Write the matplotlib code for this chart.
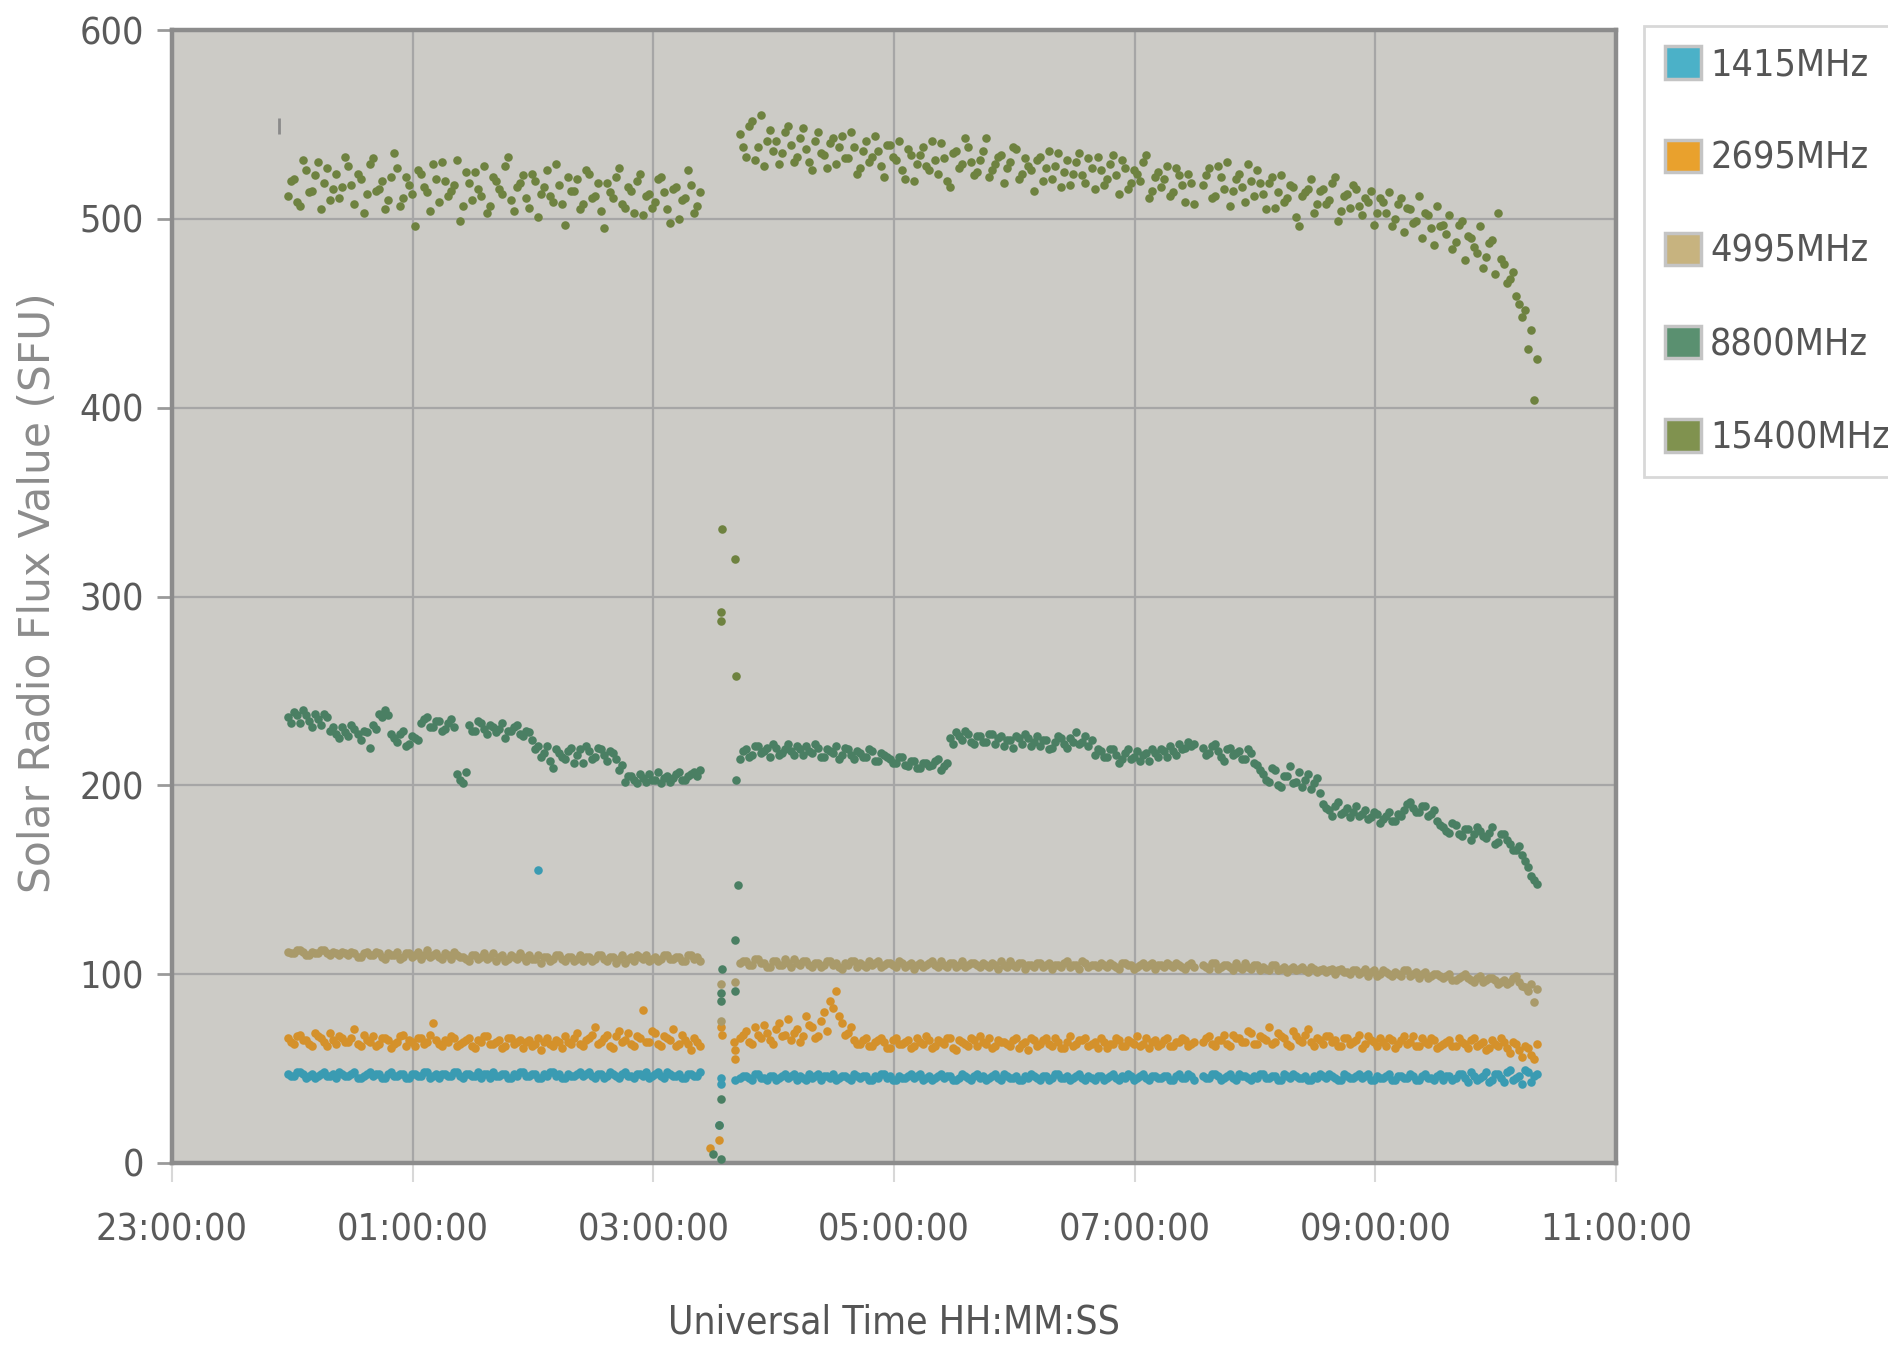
import numpy as np
import matplotlib
matplotlib.use("Agg")
import matplotlib.pyplot as plt
from matplotlib.patches import Patch
from matplotlib import font_manager as fm

# time grid (minutes after 23:00), three stretches of observation
t_a = np.arange(58, 263, 3) / 60.0     # 23:58 - 03:22
t_b1 = np.arange(283, 509, 3) / 60.0   # 03:43 - 07:28
t_b2 = np.arange(514, 680, 3) / 60.0   # 07:34 - 10:19
# second sample set, taken half way between the first
t_a2 = (np.arange(58, 263, 3) + 1.5) / 60.0
t_b12 = (np.arange(283, 509, 3) + 1.5) / 60.0
t_b22 = (np.arange(514, 680, 3) + 1.5) / 60.0

f15400_a = [512, 521, 507, 526, 515, 530, 519, 510, 524, 517,
            528, 508, 521, 513, 532, 516, 505, 522, 527, 511,
            518, 496, 524, 514, 529, 509, 520, 515, 531, 507,
            519, 525, 512, 503, 522, 516, 528, 510, 517, 523,
            506, 520, 513, 526, 509, 518, 497, 515, 521, 508,
            524, 512, 504, 519, 511, 527, 506, 515, 520, 502,
            513, 509, 522, 505, 516, 500, 511, 518, 507]
f15400_b1 = [545, 533, 552, 538, 528, 547, 541, 535, 549, 530,
             543, 537, 526, 546, 534, 540, 529, 544, 532, 538,
             527, 541, 533, 536, 522, 539, 531, 526, 537, 520,
             534, 528, 541, 524, 532, 517, 536, 529, 538, 523,
             531, 543, 526, 533, 519, 530, 537, 524, 528, 515,
             533, 527, 521, 535, 525, 518, 530, 523, 532, 516,
             526, 521, 534, 513, 527, 519, 524, 530, 511, 522,
             517, 528, 514, 523, 509, 519]
f15400_b2 = [518, 527, 512, 522, 530, 515, 524, 509, 520, 526,
             513, 519, 506, 523, 511, 517, 496, 514, 521, 508,
             516, 510, 522, 504, 513, 518, 507, 511, 515, 503,
             509, 514, 500, 511, 506, 498, 512, 503, 495, 507,
             497, 502, 488, 499, 491, 485, 496, 480, 489, 503,
             476, 468, 459, 448, 431, 404]
f15400_a2 = [520, 509, 531, 514, 523, 505, 527, 516, 511, 533,
             518, 524, 503, 529, 515, 520, 510, 535, 507, 522,
             513, 526, 517, 504, 521, 530, 512, 518, 499, 525,
             510, 516, 528, 507, 520, 513, 533, 504, 519, 511,
             524, 501, 517, 512, 529, 508, 522, 515, 505, 526,
             511, 519, 495, 514, 522, 508, 517, 503, 524, 512,
             506, 521, 514, 498, 517, 510, 526, 503, 514]
f15400_b12 = [538, 549, 531, 555, 541, 536, 529, 546, 539, 533,
              548, 530, 541, 535, 527, 543, 538, 532, 546, 524,
              536, 530, 544, 528, 539, 533, 541, 521, 534, 529,
              538, 526, 531, 540, 520, 535, 527, 543, 530, 525,
              536, 522, 529, 534, 527, 538, 521, 532, 526, 531,
              520, 536, 528, 517, 531, 524, 535, 519, 527, 533,
              518, 529, 523, 531, 516, 526, 520, 534, 515, 525,
              521, 512, 527, 518, 524, 508]
f15400_b22 = [523, 511, 528, 516, 507, 521, 517, 529, 512, 519,
              505, 522, 514, 509, 518, 501, 512, 516, 503, 515,
              508, 519, 499, 512, 506, 516, 502, 509, 497, 511,
              503, 496, 508, 493, 505, 499, 490, 502, 486, 496,
              492, 484, 497, 478, 490, 482, 474, 487, 471, 479,
              466, 472, 455, 452, 441, 426]

f8800_a = [236, 239, 233, 237, 231, 235, 238, 229, 227, 231,
           226, 230, 224, 228, 232, 238, 240, 227, 223, 229,
           222, 225, 233, 236, 231, 234, 230, 235, 206, 201,
           232, 229, 233, 227, 231, 230, 225, 229, 232, 226,
           228, 219, 215, 221, 209, 217, 214, 220, 216, 212,
           218, 215, 219, 213, 217, 208, 202, 205, 201, 204,
           206, 203, 201, 205, 204, 207, 203, 206, 205]
f8800_b1 = [214, 219, 216, 221, 218, 215, 220, 217, 222, 216,
            219, 221, 217, 220, 215, 218, 221, 216, 219, 214,
            217, 215, 218, 213, 216, 214, 212, 215, 210, 213,
            209, 212, 211, 214, 210, 225, 228, 224, 227, 222,
            226, 223, 227, 225, 221, 224, 226, 222, 225, 223,
            221, 224, 220, 226, 222, 225, 228, 223, 221, 216,
            218, 215, 219, 212, 217, 214, 218, 216, 213, 217,
            219, 215, 218, 222, 220, 221]
f8800_b2 = [220, 217, 222, 215, 219, 216, 218, 214, 217, 211,
            206, 202, 208, 199, 205, 201, 207, 203, 198, 204,
            190, 187, 189, 185, 188, 186, 184, 187, 183, 185,
            182, 186, 181, 184, 190, 188, 186, 189, 185, 181,
            178, 175, 179, 173, 177, 174, 176, 172, 178, 170,
            174, 169, 166, 163, 157, 150]
f8800_a2 = [233, 237, 240, 234, 238, 232, 236, 231, 225, 228,
            232, 227, 229, 220, 230, 236, 237, 225, 227, 221,
            226, 224, 235, 231, 234, 229, 233, 231, 203, 207,
            229, 234, 230, 232, 228, 233, 229, 231, 227, 229,
            224, 221, 217, 213, 219, 215, 218, 212, 219, 221,
            214, 220, 216, 218, 214, 211, 205, 203, 206, 202,
            203, 207, 204, 202, 206, 203, 205, 207, 208]
f8800_b12 = [218, 215, 221, 217, 220, 222, 216, 219, 218, 221,
             216, 218, 222, 215, 219, 217, 214, 220, 216, 218,
             215, 219, 213, 217, 215, 212, 215, 211, 213, 209,
             212, 210, 213, 208, 212, 222, 226, 229, 223, 226,
             223, 227, 222, 226, 224, 220, 225, 227, 221, 226,
             224, 219, 223, 225, 220, 223, 222, 226, 224, 219,
             215, 219, 216, 214, 219, 215, 213, 217, 219, 215,
             218, 221, 216, 219, 223, 222]
f8800_b22 = [216, 221, 218, 213, 220, 217, 214, 219, 212, 208,
             203, 209, 200, 205, 210, 202, 199, 206, 201, 196,
             188, 184, 191, 186, 183, 189, 185, 182, 186, 180,
             184, 181, 185, 187, 191, 186, 189, 184, 187, 179,
             176, 180, 174, 177, 171, 178, 173, 175, 169, 174,
             171, 166, 168, 160, 152, 148]

f4995_a = [112, 111, 113, 110, 112, 111, 113, 110, 111, 112,
           110, 111, 109, 112, 110, 111, 108, 110, 112, 109,
           111, 110, 108, 113, 110, 109, 111, 108, 110, 109,
           107, 110, 109, 108, 111, 109, 107, 110, 108, 109,
           110, 108, 106, 109, 108, 110, 107, 109, 108, 107,
           109, 108, 110, 107, 109, 108, 106, 109, 110, 108,
           107, 109, 108, 110, 108, 109, 107, 110, 109]
f4995_b1 = [106, 107, 105, 108, 106, 104, 107, 105, 106, 108,
            105, 107, 104, 106, 105, 107, 106, 103, 105, 107,
            106, 104, 105, 107, 105, 106, 104, 106, 105, 103,
            106, 105, 107, 104, 105, 106, 104, 107, 105, 106,
            104, 105, 106, 103, 105, 107, 104, 106, 105, 104,
            106, 105, 103, 105, 106, 104, 105, 107, 104, 105,
            106, 104, 105, 103, 106, 105, 104, 106, 105, 103,
            105, 106, 104, 105, 103, 106]
f4995_b2 = [105, 103, 106, 104, 105, 102, 104, 106, 103, 105,
            104, 102, 105, 103, 101, 104, 103, 102, 104, 101,
            103, 102, 100, 103, 101, 102, 100, 103, 101, 99,
            102, 100, 101, 99, 102, 100, 98, 101, 99, 100,
            98, 100, 97, 99, 98, 96, 99, 97, 98, 95,
            97, 96, 99, 94, 91, 85]
f4995_a2 = [111, 113, 112, 110, 111, 113, 111, 112, 110, 111,
            112, 109, 111, 110, 112, 109, 111, 110, 108, 111,
            109, 112, 110, 109, 111, 108, 110, 112, 109, 108,
            110, 108, 111, 109, 107, 110, 108, 109, 111, 107,
            108, 110, 109, 107, 110, 108, 109, 107, 110, 109,
            107, 110, 108, 109, 106, 110, 108, 107, 109, 110,
            108, 107, 110, 108, 109, 107, 110, 108, 107]
f4995_b12 = [107, 105, 108, 106, 104, 107, 105, 108, 104, 106,
             107, 105, 106, 104, 107, 105, 104, 106, 107, 104,
             105, 107, 106, 104, 106, 105, 107, 104, 106, 105,
             104, 106, 105, 107, 104, 106, 105, 104, 106, 105,
             106, 104, 105, 107, 104, 105, 106, 103, 105, 106,
             104, 106, 105, 104, 107, 105, 103, 106, 105, 104,
             105, 106, 104, 106, 105, 103, 105, 104, 106, 105,
             104, 105, 106, 104, 105, 104]
f4995_b22 = [104, 106, 103, 105, 104, 106, 103, 104, 105, 102,
             103, 105, 102, 104, 103, 102, 104, 101, 103, 102,
             101, 103, 102, 101, 100, 102, 101, 99, 102, 100,
             101, 99, 100, 102, 99, 101, 100, 98, 100, 99,
             99, 97, 98, 100, 97, 98, 96, 98, 97, 96,
             95, 98, 96, 93, 95, 92]

f2695_a = [66, 63, 68, 65, 62, 67, 64, 69, 63, 66,
           64, 71, 62, 65, 67, 63, 66, 61, 64, 68,
           65, 62, 66, 64, 74, 63, 65, 67, 62, 64,
           66, 61, 64, 67, 63, 65, 62, 66, 64, 61,
           65, 63, 60, 66, 62, 64, 67, 63, 69, 62,
           66, 72, 64, 68, 61, 70, 65, 63, 67, 81,
           64, 69, 62, 66, 71, 63, 65, 60, 64]
f2695_b1 = [66, 70, 63, 68, 73, 65, 71, 67, 76, 69,
            64, 78, 72, 67, 80, 86, 91, 74, 69, 65,
            63, 66, 62, 65, 64, 61, 66, 63, 65, 62,
            64, 67, 61, 65, 63, 66, 60, 64, 62, 65,
            67, 63, 61, 65, 64, 62, 66, 63, 60, 65,
            63, 66, 62, 64, 61, 67, 63, 65, 62, 64,
            66, 61, 63, 65, 62, 64, 67, 63, 61, 65,
            63, 66, 62, 64, 65, 63]
f2695_b2 = [64, 67, 62, 65, 63, 68, 66, 64, 69, 63,
            66, 72, 64, 67, 63, 70, 65, 68, 64, 66,
            63, 67, 65, 62, 66, 64, 68, 63, 65, 62,
            64, 66, 61, 65, 63, 67, 62, 64, 66, 61,
            63, 65, 62, 64, 61, 66, 63, 60, 65, 62,
            64, 58, 63, 56, 61, 55]
f2695_a2 = [64, 67, 65, 63, 69, 66, 62, 65, 67, 64,
            66, 63, 68, 64, 62, 66, 65, 63, 67, 62,
            64, 66, 63, 68, 65, 62, 64, 66, 63, 65,
            62, 65, 67, 63, 64, 61, 66, 63, 65, 64,
            62, 66, 64, 63, 65, 61, 64, 66, 63, 65,
            68, 63, 66, 62, 67, 64, 69, 62, 66, 64,
            70, 63, 67, 65, 62, 68, 63, 66, 62]
f2695_b12 = [68, 64, 72, 66, 69, 63, 74, 68, 65, 71,
             67, 73, 66, 75, 70, 82, 78, 68, 72, 63,
             65, 62, 64, 66, 61, 65, 63, 64, 61, 66,
             63, 65, 62, 64, 66, 61, 65, 63, 66, 62,
             64, 66, 62, 64, 63, 65, 61, 64, 66, 62,
             65, 63, 66, 61, 64, 62, 65, 66, 63, 61,
             64, 63, 66, 62, 65, 63, 62, 66, 64, 62,
             65, 62, 64, 66, 62, 64]
f2695_b22 = [66, 63, 65, 68, 62, 66, 64, 70, 63, 67,
             65, 63, 69, 66, 62, 67, 64, 71, 62, 65,
             67, 64, 62, 66, 63, 65, 61, 67, 64, 66,
             62, 65, 63, 67, 64, 62, 66, 63, 65, 62,
             64, 62, 66, 63, 65, 62, 64, 61, 63, 66,
             61, 64, 60, 62, 57, 63]

f1415_a = [47, 46, 48, 45, 47, 46, 48, 46, 45, 47,
           46, 48, 45, 47, 46, 47, 45, 48, 46, 47,
           45, 47, 46, 48, 46, 45, 47, 46, 48, 45,
           47, 46, 45, 47, 48, 46, 47, 45, 46, 48,
           46, 47, 45, 46, 48, 47, 45, 46, 47, 46,
           48, 45, 47, 46, 47, 45, 48, 46, 47, 46,
           45, 47, 46, 48, 46, 47, 45, 47, 46]
f1415_b1 = [45, 46, 44, 47, 45, 46, 44, 46, 45, 47,
            46, 44, 45, 47, 46, 45, 44, 46, 45, 47,
            45, 46, 44, 45, 47, 46, 44, 45, 46, 45,
            47, 45, 44, 46, 45, 46, 44, 47, 45, 46,
            45, 44, 46, 45, 47, 45, 46, 44, 45, 46,
            44, 46, 45, 47, 45, 44, 46, 45, 46, 44,
            46, 45, 47, 44, 45, 46, 45, 47, 44, 46,
            45, 46, 44, 47, 45, 46]
f1415_b2 = [46, 45, 47, 44, 46, 45, 47, 46, 44, 45,
            47, 45, 46, 44, 46, 47, 45, 46, 44, 45,
            46, 47, 45, 44, 46, 45, 47, 46, 44, 46,
            45, 47, 44, 46, 45, 46, 44, 47, 45, 46,
            44, 46, 45, 47, 43, 46, 45, 48, 44, 47,
            43, 49, 45, 42, 48, 46]
f1415_a2 = [46, 48, 47, 46, 45, 47, 46, 47, 48, 46,
            47, 45, 46, 48, 47, 45, 47, 46, 47, 45,
            47, 46, 48, 45, 47, 47, 46, 48, 46, 47,
            46, 48, 47, 45, 46, 47, 45, 47, 48, 46,
            47, 45, 47, 48, 46, 45, 47, 46, 48, 47,
            46, 47, 45, 48, 46, 47, 46, 45, 47, 48,
            46, 48, 45, 47, 46, 45, 47, 46, 48]
f1415_b12 = [46, 45, 47, 45, 44, 46, 45, 47, 46, 44,
             45, 47, 46, 44, 46, 47, 45, 46, 44, 46,
             46, 44, 46, 47, 45, 44, 46, 45, 47, 46,
             44, 46, 45, 47, 46, 44, 45, 46, 44, 47,
             46, 45, 47, 44, 46, 45, 44, 46, 47, 45,
             46, 44, 47, 45, 46, 45, 47, 44, 45, 46,
             44, 46, 45, 46, 47, 44, 46, 45, 46, 45,
             46, 44, 46, 45, 47, 44]
f1415_b22 = [45, 47, 46, 45, 47, 44, 46, 45, 46, 47,
             45, 46, 44, 47, 45, 46, 45, 44, 46, 47,
             45, 46, 44, 47, 45, 46, 45, 47, 44, 45,
             46, 44, 46, 45, 47, 44, 46, 45, 44, 47,
             46, 44, 47, 45, 48, 44, 46, 43, 47, 45,
             48, 44, 46, 49, 43, 47]

# stray readings around the 03:30 calibration gap (hours after 23:00)
spike_t_15400 = [4.57, 4.68, 4.56, 4.56, 4.69]
spike_v_15400 = [336, 320, 292, 287, 258]
spike_t_8800 = [4.69, 4.70, 4.68, 4.57, 4.68, 4.56, 4.56, 4.56, 4.55, 4.50, 4.56]
spike_v_8800 = [203, 147, 118, 103, 91, 90, 86, 34, 20, 5, 2]
spike_t_4995 = [4.56, 4.56, 4.68]
spike_v_4995 = [95, 75, 96]
spike_t_2695 = [4.47, 4.55, 4.56, 4.57, 4.68, 4.68, 4.67]
spike_v_2695 = [8, 12, 72, 68, 60, 55, 64]
spike_t_1415 = [4.56, 4.56, 4.55, 4.68, 3.04]
spike_v_1415 = [45, 42, 20, 44, 155]

labels = ["1415MHz", "2695MHz", "4995MHz", "8800MHz", "15400MHz"]
dot_colors = ["#3a9bb2", "#d4912b", "#a99a6a", "#4a7f63", "#6e8240"]
legend_colors = ["#4bb1c8", "#e9a12d", "#c7b37f", "#5a9070", "#80924f"]
xtick_labels = ["23:00:00", "01:00:00", "03:00:00", "05:00:00",
                "07:00:00", "09:00:00", "11:00:00"]

times = [t_a, t_b1, t_b2, t_a2, t_b12, t_b22]
series = [
    (times + [spike_t_1415],
     [f1415_a, f1415_b1, f1415_b2, f1415_a2, f1415_b12, f1415_b22, spike_v_1415]),
    (times + [spike_t_2695],
     [f2695_a, f2695_b1, f2695_b2, f2695_a2, f2695_b12, f2695_b22, spike_v_2695]),
    (times + [spike_t_4995],
     [f4995_a, f4995_b1, f4995_b2, f4995_a2, f4995_b12, f4995_b22, spike_v_4995]),
    (times + [spike_t_8800],
     [f8800_a, f8800_b1, f8800_b2, f8800_a2, f8800_b12, f8800_b22, spike_v_8800]),
    (times + [spike_t_15400],
     [f15400_a, f15400_b1, f15400_b2, f15400_a2, f15400_b12, f15400_b22, spike_v_15400]),
]

# condensed face for the tick labels, if the system has one
cond = fm.FontProperties(family="DejaVu Sans", stretch="condensed")
cond_path = fm.findfont(cond)
if "ondensed" in cond_path:
    tick_font = fm.FontProperties(fname=cond_path)
    tick_size = 27
else:
    tick_font = fm.FontProperties(family="Liberation Sans")
    tick_size = 26

fig = plt.figure(figsize=(18.88, 13.47), dpi=100)
ax = fig.add_axes([0.0911, 0.1366, 0.7648, 0.8411])
ax.set_facecolor("#cccbc6")

for (ts, vs), col in zip(series, dot_colors):
    ax.scatter(np.concatenate(ts), np.concatenate(vs), s=38, color=col,
               linewidths=0, zorder=3)

# small grey dash near the top left
ax.plot([0.89], [549], marker="|", markersize=12, color="#8a8a8a", mew=2, zorder=3)

ax.set_xlim(0, 12)
ax.set_ylim(0, 600)
ax.set_xticks(np.arange(0, 13, 2))
ax.set_xticklabels(xtick_labels)
ax.set_yticks(np.arange(0, 601, 100))
ax.grid(True, color="#a6a6a6", linewidth=1.6, zorder=1)
ax.set_axisbelow(True)

for s in ax.spines.values():
    s.set_color("#8c8c8c")
    s.set_linewidth(3.2)

ax.tick_params(axis="y", length=11, width=2, color="#9a9a9a", pad=9,
               labelcolor="#5a5a5a")
ax.tick_params(axis="x", length=14, width=1.5, color="#d8d8d8", pad=22,
               labelcolor="#5a5a5a")
for lab in ax.get_xticklabels() + ax.get_yticklabels():
    lab.set_fontproperties(tick_font)
    lab.set_fontsize(tick_size)

fig.text(0.02, 0.56, "Solar Radio Flux Value (SFU)", rotation=90,
         ha="center", va="center", fontsize=30.5, color="#8c8c8c",
         family="DejaVu Sans")
xl = fig.text(0.4735, 0.032, "Universal Time HH:MM:SS", ha="center", va="top",
              color="#555555", fontproperties=tick_font)
xl.set_fontsize(tick_size + 1)

handles = [Patch(facecolor=c, edgecolor="#c4c4c4", linewidth=2.5) for c in legend_colors]
leg_prop = tick_font.copy()
leg_prop.set_size(tick_size)
leg = fig.legend(handles, labels, loc="upper left", bbox_to_anchor=(0.871, 0.981),
                 prop=leg_prop, frameon=True, fancybox=False,
                 handlelength=0.95, handleheight=0.95, handletextpad=0.25,
                 labelspacing=1.5, borderpad=0.55, borderaxespad=0)
leg.get_frame().set_edgecolor("#cfcfcf")
leg.get_frame().set_linewidth(2)
for txt in leg.get_texts():
    txt.set_color("#555555")

fig.savefig("out.png", dpi=100)
